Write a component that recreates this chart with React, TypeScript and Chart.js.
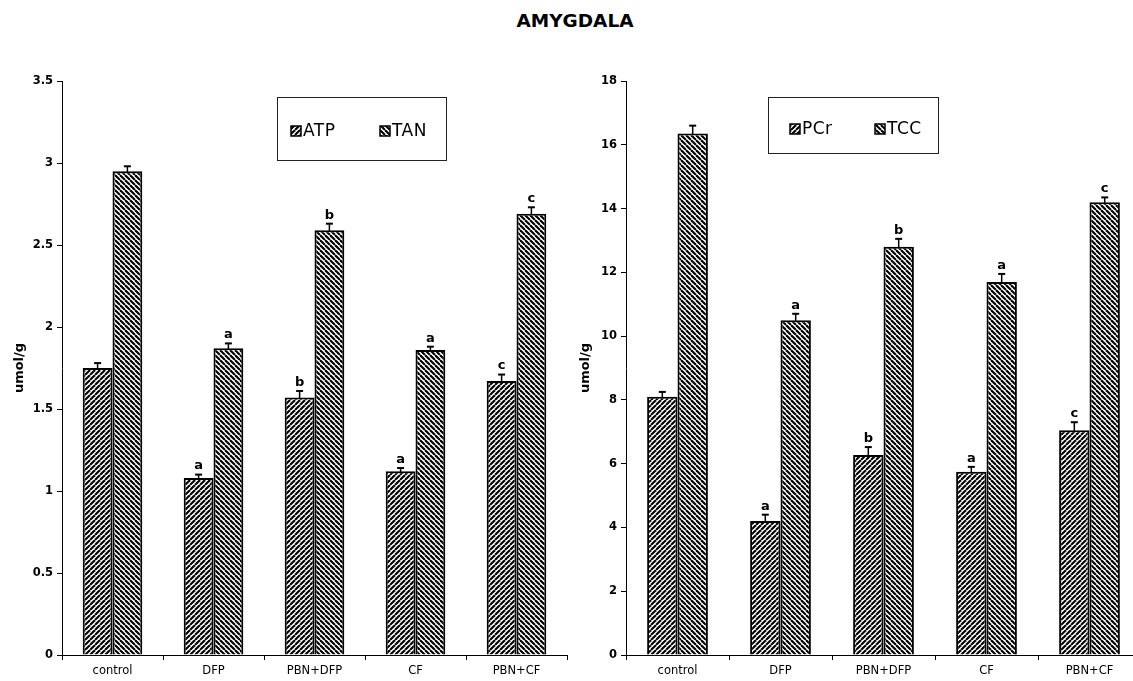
import { useEffect, useRef } from 'react';
import { Chart, registerables } from 'chart.js';

Chart.register(...registerables);

// Treatment groups along the x axis
const groups = ['control', 'DFP', 'PBN+DFP', 'CF', 'PBN+CF'];

// Adenine nucleotides (umol/g)
const atp = [1.75, 1.08, 1.57, 1.12, 1.67];
const atpErr = [0.03, 0.02, 0.04, 0.02, 0.04];
const tan = [2.95, 1.87, 2.59, 1.86, 2.69];
const tanErr = [0.03, 0.03, 0.04, 0.02, 0.04];

// Creatine compounds (umol/g)
const pcr = [8.1, 4.2, 6.27, 5.75, 7.05];
const pcrErr = [0.15, 0.2, 0.25, 0.15, 0.25];
const tcc = [16.35, 10.5, 12.8, 11.7, 14.2];
const tccErr = [0.25, 0.2, 0.25, 0.25, 0.15];

// Significance letters above each bar
const sigLetters = ['', 'a', 'b', 'a', 'c'];

// Axis ranges
const leftMax = 3.5;
const leftStep = 0.5;
const rightMax = 18;
const rightStep = 2;

const FONT = '"DejaVu Sans", "Liberation Sans", Arial, sans-serif';

function makeHatch(forward: boolean): CanvasPattern | string {
  const s = 5;
  const c = document.createElement('canvas');
  c.width = s;
  c.height = s;
  const g = c.getContext('2d');
  if (!g) return '#888';
  g.fillStyle = '#fff';
  g.fillRect(0, 0, s, s);
  g.strokeStyle = '#000';
  g.lineWidth = 2.1;
  for (let k = -1; k <= 1; k++) {
    g.beginPath();
    if (forward) {
      g.moveTo(k * s, s);
      g.lineTo(k * s + s, 0);
    } else {
      g.moveTo(k * s, 0);
      g.lineTo(k * s + s, s);
    }
    g.stroke();
  }
  const ctx = document.createElement('canvas').getContext('2d');
  return (ctx && ctx.createPattern(c, 'repeat')) || '#888';
}

// Whiskers (upper half only) plus letters above them
const errorBars = {
  id: 'errorBars',
  afterDatasetsDraw(chart: any) {
    const ctx = chart.ctx;
    const y = chart.scales.y;
    chart.data.datasets.forEach((ds: any, i: number) => {
      const meta = chart.getDatasetMeta(i);
      meta.data.forEach((bar: any, j: number) => {
        const v = ds.data[j];
        const e = ds.errors[j];
        const top = y.getPixelForValue(v + e);
        ctx.save();
        ctx.strokeStyle = '#000';
        ctx.lineWidth = 1.5;
        ctx.beginPath();
        ctx.moveTo(bar.x, bar.y + 1);
        ctx.lineTo(bar.x, top);
        ctx.stroke();
        ctx.lineWidth = 2;
        ctx.beginPath();
        ctx.moveTo(bar.x - 3.5, top);
        ctx.lineTo(bar.x + 3.5, top);
        ctx.stroke();
        const l = ds.letters[j];
        if (l) {
          ctx.fillStyle = '#000';
          ctx.font = `bold 13px ${FONT}`;
          ctx.textAlign = 'center';
          ctx.textBaseline = 'bottom';
          ctx.fillText(l, bar.x, top - 2);
        }
        ctx.restore();
      });
    });
  },
};

// Boxed legend drawn inside the plot area
const boxLegend = {
  id: 'boxLegend',
  afterDraw(chart: any, _args: any, opts: any) {
    const ctx = chart.ctx;
    const { x, y, w, h, cy, items } = opts;
    ctx.save();
    ctx.strokeStyle = '#222';
    ctx.lineWidth = 1;
    ctx.strokeRect(x + 0.5, y + 0.5, w, h);
    chart.data.datasets.forEach((ds: any, i: number) => {
      const sx = items[i];
      ctx.fillStyle = ds.backgroundColor;
      ctx.fillRect(sx, cy - 5, 10, 10);
      ctx.strokeStyle = '#000';
      ctx.lineWidth = 1.5;
      ctx.strokeRect(sx, cy - 5, 10, 10);
      ctx.fillStyle = '#000';
      ctx.font = `17px ${FONT}`;
      if ('letterSpacing' in ctx) (ctx as any).letterSpacing = '0.5px';
      ctx.textAlign = 'left';
      ctx.textBaseline = 'middle';
      ctx.fillText(ds.label, sx + 12, cy + 1);
    });
    ctx.restore();
  },
};

type PanelProps = {
  left: number;
  width: number;
  yWidth: number;
  padRight: number;
  max: number;
  step: number;
  series: { label: string; data: number[]; errors: number[]; forward: boolean }[];
  legend: { x: number; y: number; w: number; h: number; cy: number; items: number[] };
};

function Panel(p: PanelProps) {
  const ref = useRef<HTMLCanvasElement | null>(null);
  useEffect(() => {
    if (!ref.current) return;
    const chart = new Chart(ref.current, {
      type: 'bar',
      data: {
        labels: groups,
        datasets: p.series.map((s) => ({
          label: s.label,
          data: s.data,
          errors: s.errors,
          letters: sigLetters,
          backgroundColor: makeHatch(s.forward),
          borderColor: '#000',
          borderWidth: 2,
          categoryPercentage: 0.59,
          barPercentage: 1,
        })) as any,
      },
      options: {
        animation: false,
        responsive: false,
        maintainAspectRatio: false,
        layout: { padding: { top: 81, bottom: 0, left: 0, right: p.padRight } },
        plugins: {
          legend: { display: false },
          tooltip: { enabled: false },
          boxLegend: p.legend,
        } as any,
        scales: {
          x: {
            grid: { drawOnChartArea: false, drawTicks: true, tickLength: 5, color: '#000', offset: true },
            border: { display: true, color: '#000', width: 1 },
            ticks: { color: '#000', font: { family: FONT, size: 11.5 }, padding: 4, maxRotation: 0 },
            afterFit(scale: any) {
              scale.height = 26;
            },
          },
          y: {
            min: 0,
            max: p.max,
            grid: { drawOnChartArea: false, drawTicks: true, tickLength: 5, color: '#000' },
            border: { display: true, color: '#000', width: 1 },
            ticks: {
              stepSize: p.step,
              color: '#000',
              font: { family: FONT, size: 11.5, weight: 'bold' },
              padding: 4,
              callback: (v: any) => String(Number(v)),
            },
            title: {
              display: true,
              text: 'umol/g',
              color: '#000',
              font: { family: FONT, size: 13, weight: 'bold' },
              padding: { top: 12, bottom: 0 },
            },
            afterFit(scale: any) {
              scale.width = p.yWidth;
            },
          },
        },
      },
      plugins: [errorBars, boxLegend],
    });
    return () => chart.destroy();
  }, []);
  return (
    <canvas
      ref={ref}
      width={p.width}
      height={681}
      style={{ position: 'absolute', left: p.left, top: 0, width: p.width, height: 681 }}
    />
  );
}

export default function App() {
  return (
    <div
      style={{
        position: 'absolute',
        left: 0,
        top: 0,
        width: 1133,
        height: 681,
        overflow: 'hidden',
        background: '#fff',
      }}
    >
      <div
        style={{
          position: 'absolute',
          left: 0,
          width: 1150,
          top: 10,
          textAlign: 'center',
          font: `bold 18.5px ${FONT}`,
          color: '#000',
        }}
      >
        AMYGDALA
      </div>
      <Panel
        left={0}
        width={575}
        yWidth={62}
        padRight={8}
        max={leftMax}
        step={leftStep}
        series={[
          { label: 'ATP', data: atp, errors: atpErr, forward: true },
          { label: 'TAN', data: tan, errors: tanErr, forward: false },
        ]}
        legend={{ x: 277, y: 97, w: 169, h: 63, cy: 131, items: [291, 380] }}
      />
      <Panel
        left={566}
        width={580}
        yWidth={60}
        padRight={5}
        max={rightMax}
        step={rightStep}
        series={[
          { label: 'PCr', data: pcr, errors: pcrErr, forward: true },
          { label: 'TCC', data: tcc, errors: tccErr, forward: false },
        ]}
        legend={{ x: 202, y: 97, w: 170, h: 56, cy: 129, items: [224, 309] }}
      />
    </div>
  );
}
